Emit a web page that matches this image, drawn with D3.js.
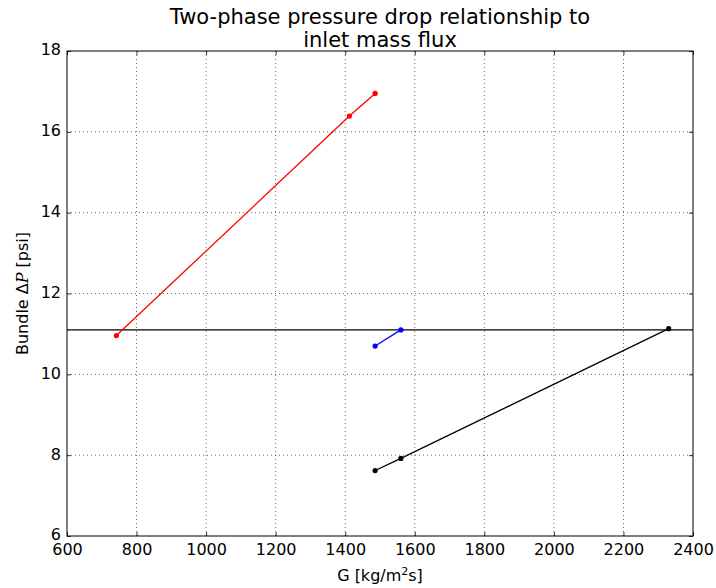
<!DOCTYPE html>
<html lang="en">
<head>
<meta charset="utf-8" />
<title>Two-phase pressure drop vs inlet mass flux</title>
<script src="https://d3js.org/d3.v7.min.js"></script>
<style>
  body { margin: 0; background: #fff; font-family: "DejaVu Sans", sans-serif; }
  svg  { display: block; }
  .grid line { stroke: #000; stroke-width: 0.6; stroke-dasharray: 1 3; }
  .tick text { font-size: 16px; fill: #000; }
</style>
</head>
<body>
<svg id="chart" width="716" height="588"></svg>
<script>
// data
const redG   = [742, 1412, 1486];
const redDP  = [10.96, 16.39, 16.95];
const blueG  = [1486, 1560];
const blueDP = [10.70, 11.10];
const blackG  = [1486, 1560, 2330];
const blackDP = [7.62, 7.92, 11.13];
const refDP = 11.10;   // horizontal reference line

const xTicks = [600, 800, 1000, 1200, 1400, 1600, 1800, 2000, 2200, 2400];
const yTicks = [6, 8, 10, 12, 14, 16, 18];

const series = [
  { color: "#ff0000", g: redG,   dp: redDP },
  { color: "#0000ff", g: blueG,  dp: blueDP },
  { color: "#000000", g: blackG, dp: blackDP }
];

const margin = { left: 67, right: 23, top: 51, bottom: 52 };
const W = 716, H = 588;
const svg = d3.select("#chart");

const x = d3.scaleLinear().domain([600, 2400]).range([margin.left, W - margin.right]);
const y = d3.scaleLinear().domain([6, 18]).range([H - margin.bottom, margin.top]);

// grid
const grid = svg.append("g").attr("class", "grid");
grid.selectAll("line.v").data(xTicks.slice(1, -1)).enter().append("line")
  .attr("x1", d => x(d)).attr("x2", d => x(d))
  .attr("y1", y(6)).attr("y2", y(18));
grid.selectAll("line.h").data(yTicks.slice(1, -1)).enter().append("line")
  .attr("y1", d => y(d)).attr("y2", d => y(d))
  .attr("x1", x(600)).attr("x2", x(2400));

// axes (ticks pointing inward, like matplotlib classic)
const axB = svg.append("g").attr("transform", `translate(0,${y(6)})`)
  .call(d3.axisBottom(x).tickValues(xTicks).tickSize(-4).tickPadding(6).tickFormat(d3.format("d")));
const axT = svg.append("g").attr("transform", `translate(0,${y(18)})`)
  .call(d3.axisTop(x).tickValues(xTicks).tickSize(-4).tickFormat(""));
const axL = svg.append("g").attr("transform", `translate(${x(600)},0)`)
  .call(d3.axisLeft(y).tickValues(yTicks).tickSize(-4).tickPadding(6).tickFormat(d3.format("d")));
const axR = svg.append("g").attr("transform", `translate(${x(2400)},0)`)
  .call(d3.axisRight(y).tickValues(yTicks).tickSize(-4).tickFormat(""));
[axB, axT, axL, axR].forEach(a => {
  a.select(".domain").remove();
  a.selectAll(".tick line").attr("stroke", "#000").attr("stroke-width", 0.8);
  a.selectAll(".tick text").attr("font-family", "DejaVu Sans");
});
axB.selectAll(".tick text").attr("dy", "0.8em");
axL.selectAll(".tick text").attr("dy", "0.24em");

// frame
svg.append("rect")
  .attr("x", x(600)).attr("y", y(18))
  .attr("width", x(2400) - x(600)).attr("height", y(6) - y(18))
  .attr("fill", "none").attr("stroke", "#000").attr("stroke-width", 1);

// reference line
svg.append("line")
  .attr("x1", x(600)).attr("x2", x(2400))
  .attr("y1", y(refDP)).attr("y2", y(refDP))
  .attr("stroke", "#000").attr("stroke-width", 1.3);

// series
const line = d3.line().x(d => x(d[0])).y(d => y(d[1]));
series.forEach(s => {
  const pts = s.g.map((g, i) => [g, s.dp[i]]);
  svg.append("path").datum(pts)
    .attr("d", line).attr("fill", "none")
    .attr("stroke", s.color).attr("stroke-width", 1.3);
  svg.selectAll(null).data(pts).enter().append("circle")
    .attr("cx", d => x(d[0])).attr("cy", d => y(d[1]))
    .attr("r", 2.6).attr("fill", s.color);
});

// title
const title = svg.append("text")
  .attr("text-anchor", "middle")
  .attr("font-size", 21).attr("font-family", "DejaVu Sans");
title.append("tspan").attr("x", (x(600) + x(2400)) / 2).attr("y", 24)
  .text("Two-phase pressure drop relationship to");
title.append("tspan").attr("x", (x(600) + x(2400)) / 2).attr("y", 47)
  .text("inlet mass flux");

// x label
const xl = svg.append("text")
  .attr("x", (x(600) + x(2400)) / 2).attr("y", 581)
  .attr("text-anchor", "middle").attr("font-size", 16).attr("font-family", "DejaVu Sans");
xl.append("tspan").text("G [kg/m");
xl.append("tspan").attr("font-size", 11).attr("dy", -6).text("2");
xl.append("tspan").attr("dy", 6).text("s]");

// y label
const yl = svg.append("text")
  .attr("transform", `translate(28,${(y(6) + y(18)) / 2}) rotate(-90)`)
  .attr("text-anchor", "middle").attr("font-size", 16).attr("font-family", "DejaVu Sans");
yl.append("tspan").text("Bundle Δ");
yl.append("tspan").attr("font-style", "italic").attr("font-family", "DejaVu Serif").text("P");
yl.append("tspan").text(" [psi]");
</script>
</body>
</html>
